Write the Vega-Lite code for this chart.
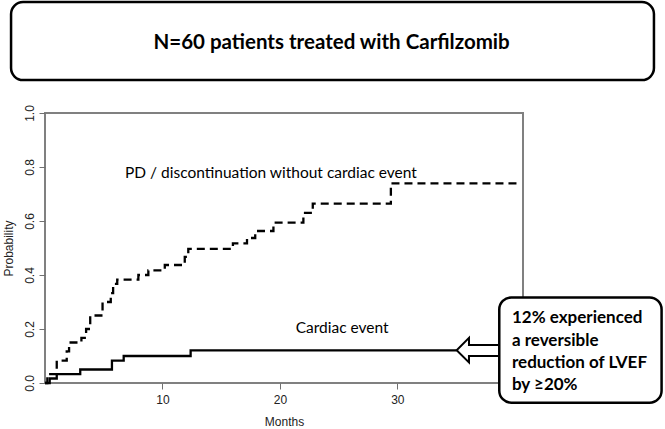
{
  "$schema": "https://vega.github.io/schema/vega-lite/v6.json",
  "width": 478,
  "height": 270,
  "autosize": {"type": "none"},
  "padding": {"left": 45, "top": 113, "right": 142, "bottom": 46},
  "background": "white",
  "config": {
    "view": {"stroke": "#808080", "strokeWidth": 2},
    "axis": {
      "grid": false,
      "domain": false,
      "tickSize": 6,
      "tickColor": "#707070",
      "tickWidth": 1,
      "labelFont": "Liberation Sans",
      "labelFontSize": 12,
      "labelColor": "#222222",
      "titleFont": "Liberation Sans",
      "titleFontSize": 12,
      "titleFontWeight": "normal",
      "titleColor": "#222222",
      "labelFlush": false
    }
  },
  "datasets": {
    "curves": [
      {"series": "PD", "t": 0, "p": 0},
      {"series": "PD", "t": 0.2, "p": 0.033},
      {"series": "PD", "t": 1.0, "p": 0.083},
      {"series": "PD", "t": 1.85, "p": 0.117},
      {"series": "PD", "t": 2.05, "p": 0.15},
      {"series": "PD", "t": 3.1, "p": 0.167},
      {"series": "PD", "t": 3.5, "p": 0.2},
      {"series": "PD", "t": 3.85, "p": 0.25},
      {"series": "PD", "t": 4.9, "p": 0.3},
      {"series": "PD", "t": 5.6, "p": 0.333},
      {"series": "PD", "t": 5.8, "p": 0.367},
      {"series": "PD", "t": 6.15, "p": 0.383},
      {"series": "PD", "t": 7.95, "p": 0.4},
      {"series": "PD", "t": 8.8, "p": 0.417},
      {"series": "PD", "t": 10.2, "p": 0.437},
      {"series": "PD", "t": 11.9, "p": 0.467},
      {"series": "PD", "t": 12.2, "p": 0.497},
      {"series": "PD", "t": 16.0, "p": 0.517},
      {"series": "PD", "t": 17.2, "p": 0.537},
      {"series": "PD", "t": 17.9, "p": 0.563},
      {"series": "PD", "t": 19.45, "p": 0.594},
      {"series": "PD", "t": 22.0, "p": 0.63},
      {"series": "PD", "t": 22.8, "p": 0.664},
      {"series": "PD", "t": 29.45, "p": 0.739},
      {"series": "PD", "t": 40.15, "p": 0.739},
      {"series": "Cardiac", "t": 0, "p": 0},
      {"series": "Cardiac", "t": 0.4, "p": 0.0167},
      {"series": "Cardiac", "t": 1.0, "p": 0.033},
      {"series": "Cardiac", "t": 3.0, "p": 0.05},
      {"series": "Cardiac", "t": 5.7, "p": 0.083},
      {"series": "Cardiac", "t": 6.7, "p": 0.1},
      {"series": "Cardiac", "t": 12.4, "p": 0.121},
      {"series": "Cardiac", "t": 35.05, "p": 0.121}
    ],
    "arrow": [
      {"i": 1, "t": 38.6, "p": 0.141},
      {"i": 2, "t": 36.1, "p": 0.141},
      {"i": 3, "t": 36.1, "p": 0.167},
      {"i": 4, "t": 35.05, "p": 0.121},
      {"i": 5, "t": 36.1, "p": 0.076},
      {"i": 6, "t": 36.1, "p": 0.1},
      {"i": 7, "t": 38.6, "p": 0.1}
    ],
    "boxes": [
      {"box": "title", "t": -2.89, "t2": 51.85, "p": 1.411, "p2": 1.122},
      {"box": "note", "t": 38.68, "t2": 52.5, "p": 0.317, "p2": -0.073}
    ],
    "titleText": [
      {"t": 24.4, "p": 1.261, "text": "N=60 patients treated with Carfilzomib"}
    ],
    "curveLabels": [
      {"t": 19.24, "p": 0.778, "text": "PD / discontinuation  without cardiac event"},
      {"t": 25.3, "p": 0.204, "text": "Cardiac event"}
    ],
    "noteText": [
      {"t": 39.76, "p": 0.239, "text": "12% experienced"},
      {"t": 39.76, "p": 0.155, "text": "a reversible"},
      {"t": 39.76, "p": 0.074, "text": "reduction of LVEF"},
      {"t": 39.76, "p": -0.007, "text": "by ≥20%"}
    ]
  },
  "encoding": {
    "x": {
      "field": "t",
      "type": "quantitative",
      "title": "Months",
      "scale": {"domain": [0, 40.7], "nice": false, "zero": false},
      "axis": {
        "values": [10, 20, 30, 40],
        "labelExpr": "datum.value == 40 ? '' : datum.label",
        "labelPadding": 5,
        "titlePadding": 11
      }
    },
    "y": {
      "field": "p",
      "type": "quantitative",
      "title": "Probability",
      "scale": {"domain": [0, 1], "nice": false, "zero": false},
      "axis": {
        "values": [0, 0.2, 0.4, 0.6, 0.8, 1.0],
        "format": ".1f",
        "labelAngle": -90,
        "labelAlign": "center",
        "labelBaseline": "bottom",
        "labelPadding": 3,
        "titlePadding": 8
      }
    }
  },
  "layer": [
    {
      "data": {"name": "curves"},
      "mark": {"type": "line", "interpolate": "step-after", "color": "black", "strokeWidth": 2.3},
      "encoding": {
        "detail": {"field": "series", "type": "nominal"},
        "strokeDash": {
          "field": "series",
          "type": "nominal",
          "scale": {"domain": ["PD", "Cardiac"], "range": [[8, 5], [1, 0]]},
          "legend": null
        }
      }
    },
    {
      "data": {"name": "arrow"},
      "mark": {"type": "line", "color": "black", "strokeWidth": 2, "strokeJoin": "miter"},
      "encoding": {
        "order": {"field": "i", "type": "quantitative"}
      }
    },
    {
      "data": {"name": "boxes"},
      "mark": {"type": "rect", "fill": "white", "stroke": "black", "strokeWidth": 2.5, "cornerRadius": 12},
      "encoding": {
        "x2": {"field": "t2"},
        "y2": {"field": "p2"}
      }
    },
    {
      "data": {"name": "titleText"},
      "mark": {"type": "text", "font": "Lato", "fontWeight": "bold", "fontSize": 20.5, "color": "black", "align": "center", "baseline": "middle"},
      "encoding": {"text": {"field": "text"}}
    },
    {
      "data": {"name": "curveLabels"},
      "mark": {"type": "text", "font": "Lato", "fontSize": 15.5, "color": "black", "align": "center", "baseline": "middle"},
      "encoding": {"text": {"field": "text"}}
    },
    {
      "data": {"name": "noteText"},
      "mark": {"type": "text", "font": "Lato", "fontWeight": "bold", "fontSize": 17, "color": "black", "align": "left", "baseline": "middle"},
      "encoding": {"text": {"field": "text"}}
    }
  ]
}
